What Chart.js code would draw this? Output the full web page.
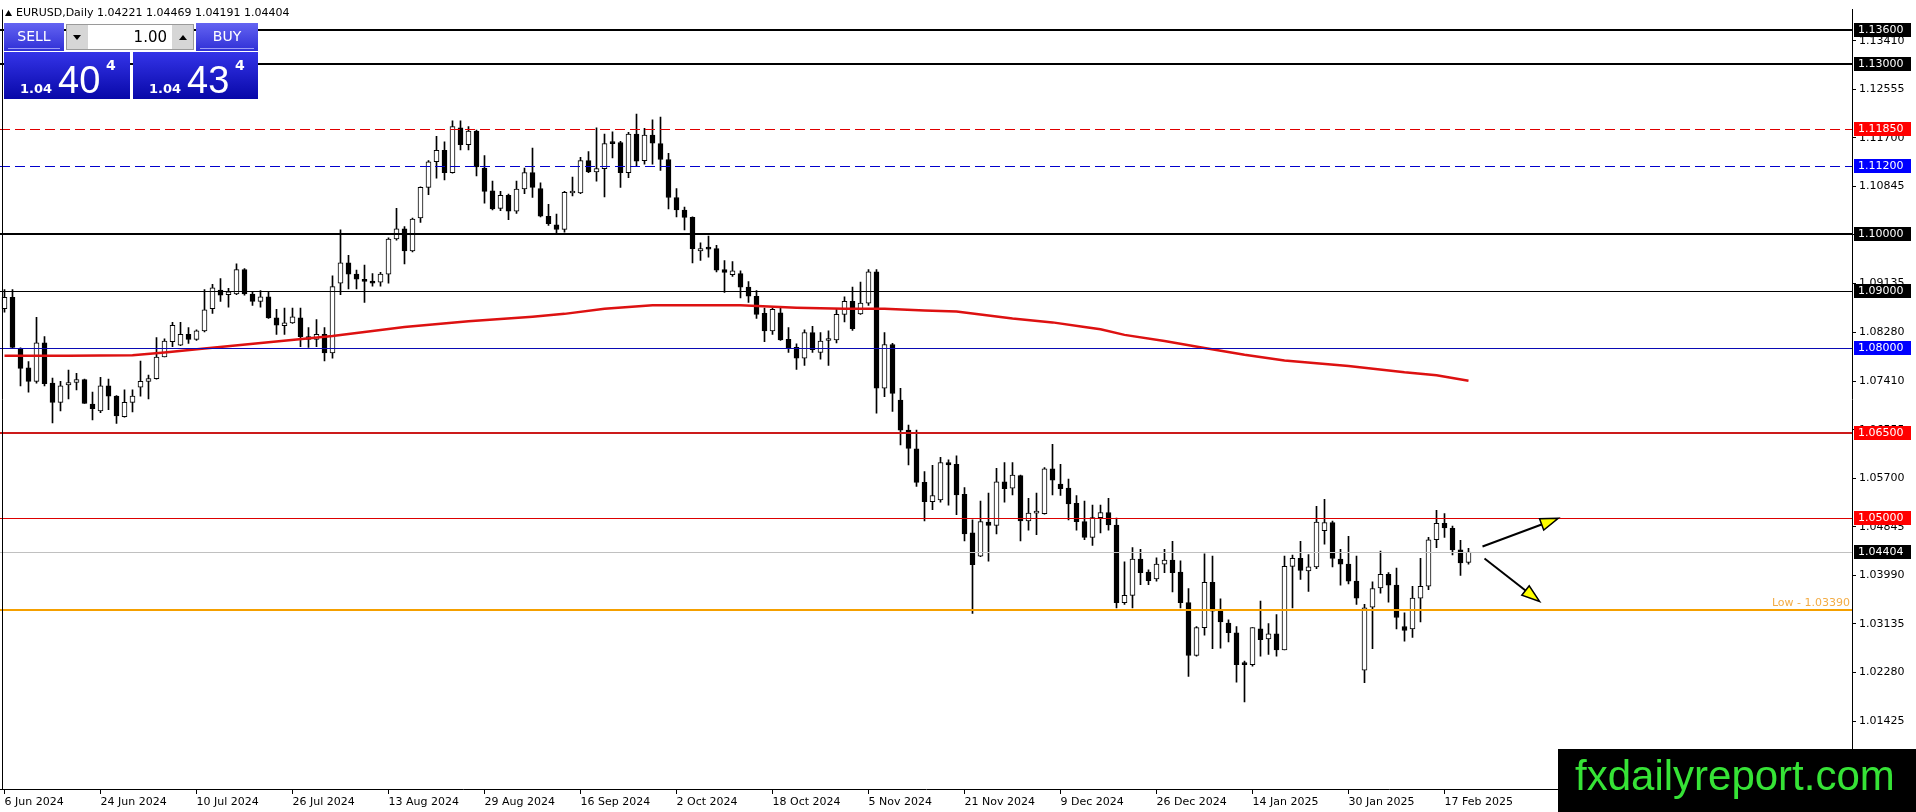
<!DOCTYPE html>
<html><head><meta charset="utf-8">
<script src="https://cdn.jsdelivr.net/npm/chart.js@4.4.1/dist/chart.umd.min.js"></script>
<style>html,body{margin:0;padding:0;background:#fff;overflow:hidden}canvas{display:block}</style>
</head><body>
<canvas id="c" width="1916" height="812"></canvas>
<script>
// ---- Daily EURUSD candles (index 0 = 6 Jun 2024, index 183 = 20 Feb 2025) ----
const openP = [
1.0869,1.0889,1.0799,1.0765,1.0741,1.0809,1.0738,1.0704,1.0735,1.0739,
1.0744,1.0701,1.0689,1.0733,1.0715,1.0679,1.0704,1.0731,1.0741,1.0746,
1.0784,1.0811,1.0805,1.0824,1.0815,1.0830,1.0869,1.0902,1.0894,1.0895,
1.0938,1.0895,1.0882,1.0890,1.0853,1.0839,1.0844,1.0853,1.0820,1.0815,
1.0824,1.0791,1.0914,1.0950,1.0930,1.0921,1.0918,1.0916,1.0930,1.0992,
1.1010,1.0971,1.1029,1.1083,1.1128,1.1148,1.1109,1.1188,1.1158,1.1182,
1.1117,1.1077,1.1046,1.1069,1.1041,1.1080,1.1109,1.1081,1.1032,1.1017,
1.1009,1.1073,1.1073,1.1130,1.1110,1.1116,1.1162,1.1162,1.1109,1.1177,
1.1130,1.1175,1.1160,1.1132,1.1065,1.1043,1.1030,1.0971,1.0976,1.0975,
1.0938,1.0929,1.0931,1.0907,1.0891,1.0861,1.0830,1.0862,1.0815,1.0801,
1.0782,1.0827,1.0792,1.0813,1.0814,1.0859,1.0882,1.0860,1.0879,1.0934,
1.0729,1.0806,1.0708,1.0655,1.0622,1.0563,1.0529,1.0532,1.0598,1.0595,
1.0542,1.0474,1.0433,1.0493,1.0487,1.0564,1.0553,1.0575,1.0495,1.0509,
1.0508,1.0587,1.0560,1.0553,1.0526,1.0494,1.0466,1.0501,1.0510,1.0488,
1.0351,1.0364,1.0428,1.0405,1.0393,1.0419,1.0426,1.0405,1.0351,1.0258,
1.0307,1.0387,1.0336,1.0315,1.0298,1.0244,1.0242,1.0305,1.0287,1.0296,
1.0268,1.0415,1.0429,1.0407,1.0414,1.0478,1.0492,1.0428,1.0419,1.0389,
1.0232,1.0343,1.0377,1.0401,1.0382,1.0309,1.0305,1.0359,1.0380,1.0462,
1.0491,1.0482,1.0444,1.04221];
const highP = [
1.0903,1.0903,1.0800,1.0776,1.0854,1.0820,1.0747,1.0741,1.0761,1.0755,
1.0745,1.0722,1.0748,1.0745,1.0716,1.0726,1.0726,1.0777,1.0752,1.0818,
1.0816,1.0845,1.0845,1.0836,1.0832,1.0903,1.0912,1.0922,1.0905,1.0948,
1.0940,1.0899,1.0901,1.0898,1.0868,1.0870,1.0870,1.0870,1.0836,1.0850,
1.0836,1.0927,1.1008,1.0963,1.0937,1.0946,1.0931,1.0933,1.0994,1.1046,
1.1014,1.1029,1.1084,1.1130,1.1173,1.1163,1.1200,1.1200,1.1190,1.1184,
1.1139,1.1094,1.1076,1.1071,1.1094,1.1117,1.1152,1.1091,1.1053,1.1036,
1.1076,1.1101,1.1136,1.1146,1.1188,1.1177,1.1181,1.1164,1.1180,1.1212,
1.1187,1.1202,1.1207,1.1143,1.1081,1.1048,1.1031,1.0985,1.0997,1.0981,
1.0954,1.0952,1.0936,1.0917,1.0901,1.0870,1.0870,1.0870,1.0836,1.0807,
1.0832,1.0838,1.0827,1.0830,1.0868,1.0890,1.0907,1.0916,1.0938,1.0938,
1.0827,1.0808,1.0729,1.0664,1.0655,1.0582,1.0593,1.0607,1.0603,1.0610,
1.0554,1.0497,1.0530,1.0544,1.0588,1.0598,1.0598,1.0576,1.0535,1.0544,
1.0589,1.0630,1.0595,1.0569,1.0540,1.0530,1.0523,1.0523,1.0535,1.0500,
1.0423,1.0448,1.0445,1.0409,1.0430,1.0445,1.0459,1.0425,1.0376,1.0309,
1.0437,1.0433,1.0358,1.0321,1.0309,1.0248,1.0307,1.0354,1.0314,1.0330,
1.0433,1.0435,1.0459,1.0436,1.0521,1.0533,1.0495,1.0445,1.0468,1.0433,
1.0348,1.0388,1.0442,1.0404,1.0412,1.0333,1.0380,1.0429,1.0466,1.0514,
1.0508,1.0486,1.0461,1.04469];
const lowP = [
1.0863,1.0800,1.0733,1.0722,1.0738,1.0733,1.0668,1.0689,1.0710,1.0726,
1.0702,1.0673,1.0686,1.0691,1.0667,1.0678,1.0687,1.0715,1.0710,1.0745,
1.0784,1.0802,1.0804,1.0808,1.0813,1.0828,1.0861,1.0882,1.0872,1.0894,
1.0893,1.0875,1.0872,1.0852,1.0824,1.0824,1.0843,1.0802,1.0801,1.0802,
1.0777,1.0782,1.0894,1.0904,1.0904,1.0880,1.0909,1.0909,1.0914,1.0990,
1.0948,1.0969,1.1021,1.1070,1.1099,1.1096,1.1108,1.1149,1.1149,1.1103,
1.1055,1.1043,1.1042,1.1026,1.1037,1.1072,1.1065,1.1031,1.1016,1.1002,
1.1004,1.1068,1.1072,1.1109,1.1094,1.1066,1.1135,1.1083,1.1100,1.1120,
1.1124,1.1124,1.1113,1.1045,1.1031,1.1008,1.0950,1.0954,1.0960,1.0934,
1.0898,1.0926,1.0888,1.0880,1.0852,1.0811,1.0824,1.0813,1.0792,1.0762,
1.0769,1.0792,1.0780,1.0769,1.0809,1.0846,1.0831,1.0859,1.0875,1.0685,
1.0714,1.0688,1.0629,1.0594,1.0556,1.0495,1.0515,1.0528,1.0523,1.0506,
1.0460,1.0332,1.0432,1.0424,1.0472,1.0528,1.0541,1.0460,1.0479,1.0471,
1.0507,1.0541,1.0540,1.0497,1.0479,1.0462,1.0452,1.0474,1.0479,1.0342,
1.0348,1.0342,1.0383,1.0383,1.0389,1.0404,1.0370,1.0342,1.0221,1.0257,
1.0294,1.0270,1.0271,1.0282,1.0211,1.0176,1.0239,1.0257,1.0260,1.0257,
1.0268,1.0342,1.0392,1.0371,1.0411,1.0454,1.0414,1.0382,1.0384,1.0348,
1.0210,1.0270,1.0368,1.0352,1.0305,1.0283,1.0290,1.0317,1.0374,1.0448,
1.0466,1.0435,1.0399,1.04191];
const closeP = [
1.0889,1.0801,1.0764,1.0741,1.0809,1.0737,1.0704,1.0733,1.0739,1.0744,
1.0702,1.0693,1.0733,1.0715,1.0680,1.0704,1.0715,1.0741,1.0746,1.0784,
1.0812,1.0840,1.0824,1.0815,1.0830,1.0867,1.0906,1.0893,1.0899,1.0938,
1.0895,1.0882,1.0890,1.0853,1.0840,1.0844,1.0855,1.0820,1.0815,1.0824,
1.0791,1.0908,1.0950,1.0930,1.0921,1.0917,1.0914,1.0930,1.0992,1.1010,
1.0971,1.1027,1.1083,1.1128,1.1148,1.1109,1.1190,1.1158,1.1182,1.1119,
1.1076,1.1045,1.1069,1.1041,1.1080,1.1109,1.1083,1.1032,1.1019,1.1009,
1.1074,1.1074,1.1130,1.1110,1.1116,1.1160,1.1160,1.1109,1.1177,1.1129,
1.1175,1.1161,1.1132,1.1065,1.1043,1.1030,1.0975,1.0975,1.0974,1.0937,
1.0933,1.0936,1.0907,1.0891,1.0859,1.0830,1.0868,1.0814,1.0799,1.0782,
1.0827,1.0797,1.0812,1.0814,1.0859,1.0882,1.0834,1.0879,1.0934,1.0729,
1.0806,1.0720,1.0655,1.0623,1.0563,1.0529,1.0540,1.0598,1.0594,1.0541,
1.0472,1.0418,1.0494,1.0487,1.0564,1.0552,1.0576,1.0495,1.0509,1.0510,
1.0587,1.0567,1.0552,1.0525,1.0494,1.0466,1.0501,1.0510,1.0488,1.0351,
1.0364,1.0428,1.0404,1.0390,1.0419,1.0426,1.0404,1.0351,1.0258,1.0307,
1.0387,1.0336,1.0317,1.0298,1.0242,1.0242,1.0307,1.0286,1.0296,1.0268,
1.0415,1.0429,1.0408,1.0414,1.0493,1.0492,1.0429,1.0419,1.0389,1.0359,
1.0342,1.0376,1.0401,1.0382,1.0325,1.0302,1.0359,1.0380,1.0462,1.0491,
1.0483,1.0444,1.0421,1.04404];

// ---- Moving average (red curve), read at sample bars ----
const maIndex = [0,8,16,20,25,33,41,50,58,66,70,75,81,92,99,105,110,115,119,122,126,131,135,137,140,145,150,155,160,168,175,179,183];
const maValue = [1.0786,1.0786,1.0787,1.0792,1.0799,1.0810,1.0821,1.0837,1.0847,1.0855,1.0860,1.0869,1.0875,1.0875,1.0871,1.0869,1.0869,1.0866,1.0864,1.0859,1.0852,1.0845,1.0837,1.0833,1.0823,1.0812,1.0800,1.0788,1.0778,1.0768,1.0757,1.0752,1.0742];

// ---- Axis labels ----
const xTickIndex = [0,12,24,36,48,60,72,84,96,108,120,132,144,156,168,180];
const xTickLabels = ['6 Jun 2024','24 Jun 2024','10 Jul 2024','26 Jul 2024','13 Aug 2024','29 Aug 2024','16 Sep 2024','2 Oct 2024','18 Oct 2024','5 Nov 2024','21 Nov 2024','9 Dec 2024','26 Dec 2024','14 Jan 2025','30 Jan 2025','17 Feb 2025'];
const yTickValues = [1.13410,1.12555,1.11700,1.10845,1.09990,1.09135,1.08280,1.07410,1.06555,1.05700,1.04845,1.03990,1.03135,1.02280,1.01425];

// ---- Horizontal levels ----
const levelPrices = [1.13600,1.13000,1.11850,1.11200,1.10000,1.09000,1.08000,1.06500,1.05000,1.04404,1.03390];
const levelTags   = ['1.13600','1.13000','1.11850','1.11200','1.10000','1.09000','1.08000','1.06500','1.05000','1.04404',''];
const lowLabel = 'Low - 1.03390';

// ---- Arrows (bar index, price) ----
const arrowFrom = [[184.75,1.0450],[185.0,1.0429]];
const arrowTo   = [[194.25,1.0500],[191.9,1.0353]];

// ---- Header texts ----
const titleText = 'EURUSD,Daily 1.04221 1.04469 1.04191 1.04404';
const lotText = '1.00';
const sellBig = ['1.04','40','4'];
const buyBig  = ['1.04','43','4'];
const logoText = 'fxdailyreport.com';

// ---- styles (kept apart from data) ----
const levelStyle = [
  {c:'#000000',w:2,box:'#000000'},
  {c:'#000000',w:2,box:'#000000'},
  {c:'#e00000',w:1,dash:[10,5],box:'#ff0000'},
  {c:'#0000cc',w:1,dash:[10,5],box:'#0000ff'},
  {c:'#000000',w:2,box:'#000000'},
  {c:'#000000',w:1,box:'#000000'},
  {c:'#0a0ab4',w:1,box:'#0000ff'},
  {c:'#cc1a1a',w:2,box:'#ff0000'},
  {c:'#dd0000',w:1,box:'#ff0000'},
  {c:'#c0c0c0',w:1,box:'#000000'},
  {c:'#f5a000',w:2,box:null}
];
const FONT = 'DejaVu Sans';
const PX_PER_BAR = 8, PLOT_W = 1852;
const xMin = -0.5625, xMax = xMin + PLOT_W / PX_PER_BAR;
const yMin = 1.00227, yMax = 1.13962;

const wickData = highP.map((h,i)=>({x:i, y:[lowP[i], h]}));
const bodyData = openP.map((o,i)=>({x:i, y:[Math.min(o,closeP[i]), Math.max(o,closeP[i])]}));
const bodyFill = openP.map((o,i)=> closeP[i] >= o ? '#ffffff' : '#000000');
const maData = maIndex.map((x,k)=>({x:x, y:maValue[k]}));

function arrow(ctx, x1,y1,x2,y2){
  const a = Math.atan2(y2-y1, x2-x1), L = 18, W = 6;
  const bx = x2 - L*Math.cos(a), by = y2 - L*Math.sin(a);
  ctx.strokeStyle = '#000'; ctx.lineWidth = 2;
  ctx.beginPath(); ctx.moveTo(x1,y1); ctx.lineTo(bx,by); ctx.stroke();
  ctx.beginPath();
  ctx.moveTo(x2,y2);
  ctx.lineTo(bx + W*Math.sin(a), by - W*Math.cos(a));
  ctx.lineTo(bx - W*Math.sin(a), by + W*Math.cos(a));
  ctx.closePath();
  ctx.fillStyle = '#ffff00'; ctx.fill();
  ctx.lineWidth = 1.5; ctx.stroke();
}

const overlay = {
  id:'overlay',
  afterDatasetsDraw(chart){
    const ctx = chart.ctx, a = chart.chartArea, ys = chart.scales.y, xs = chart.scales.x;
    ctx.save();
    ctx.beginPath(); ctx.rect(a.left, a.top, a.right-a.left, a.bottom-a.top); ctx.clip();
    levelPrices.forEach((p,k)=>{
      const st = levelStyle[k];
      let y = Math.round(ys.getPixelForValue(p));
      if (st.w % 2 === 1) y += 0.5;
      ctx.strokeStyle = st.c; ctx.lineWidth = st.w;
      ctx.setLineDash(st.dash || []);
      ctx.beginPath(); ctx.moveTo(a.left, y); ctx.lineTo(a.right, y); ctx.stroke();
    });
    ctx.setLineDash([]);
    const yl = ys.getPixelForValue(levelPrices[10]);
    ctx.font = '11px "' + FONT + '"'; ctx.fillStyle = '#f3ac45';
    ctx.textAlign = 'right'; ctx.textBaseline = 'alphabetic';
    ctx.fillText(lowLabel, a.right - 2, yl - 4);
    for (let k=0;k<arrowFrom.length;k++){
      arrow(ctx, xs.getPixelForValue(arrowFrom[k][0]), ys.getPixelForValue(arrowFrom[k][1]),
                 xs.getPixelForValue(arrowTo[k][0]), ys.getPixelForValue(arrowTo[k][1]));
    }
    ctx.restore();
  },
  afterDraw(chart){
    const ctx = chart.ctx, a = chart.chartArea, ys = chart.scales.y;
    ctx.save();
    ctx.strokeStyle = '#000'; ctx.lineWidth = 1;
    ctx.beginPath(); ctx.moveTo(2.5, a.top); ctx.lineTo(2.5, a.bottom); ctx.stroke();
    ctx.font = '11px "' + FONT + '"'; ctx.textAlign = 'left'; ctx.textBaseline = 'middle';
    levelPrices.forEach((p,k)=>{
      const st = levelStyle[k];
      if (!st.box) return;
      const y = Math.round(ys.getPixelForValue(p));
      ctx.fillStyle = st.box; ctx.fillRect(a.right + 2, y - 7, 57, 14);
      ctx.fillStyle = '#ffffff'; ctx.fillText(levelTags[k], a.right + 6, y + 0.5);
    });
    ctx.fillStyle = '#000';
    ctx.beginPath(); ctx.moveTo(5,16); ctx.lineTo(12,16); ctx.lineTo(8.5,10); ctx.closePath(); ctx.fill();
    ctx.font = '11px "' + FONT + '"'; ctx.textBaseline = 'middle'; ctx.textAlign = 'left';
    ctx.fillText(titleText, 16, 13);
    const blueBtn = (x,y,w,h)=>{
      const g = ctx.createLinearGradient(0,y,0,y+h);
      g.addColorStop(0,'#6464f2'); g.addColorStop(1,'#2f2fd6');
      ctx.fillStyle = g; ctx.fillRect(x,y,w,h);
      ctx.fillStyle = '#9c9cf6'; ctx.fillRect(x+4, y+h-3, w-8, 1);
    };
    blueBtn(4,23,60,28);
    blueBtn(196,23,62,28);
    ctx.fillStyle = '#d6d6d6'; ctx.fillRect(66,24,128,26);
    ctx.strokeStyle = '#9a9a9a'; ctx.lineWidth = 1; ctx.strokeRect(66.5,24.5,127,25);
    ctx.fillStyle = '#ffffff'; ctx.fillRect(88,25,84,24);
    ctx.fillStyle = '#000';
    ctx.beginPath(); ctx.moveTo(73,35); ctx.lineTo(81,35); ctx.lineTo(77,40); ctx.closePath(); ctx.fill();
    ctx.beginPath(); ctx.moveTo(179,40); ctx.lineTo(187,40); ctx.lineTo(183,35); ctx.closePath(); ctx.fill();
    ctx.font = '15px "' + FONT + '"'; ctx.textAlign = 'right'; ctx.fillStyle = '#000';
    ctx.fillText(lotText, 167, 38);
    ctx.font = '14px "' + FONT + '"'; ctx.textAlign = 'center'; ctx.fillStyle = '#fff';
    ctx.fillText('SELL', 34, 37);
    ctx.fillText('BUY', 227, 37);
    const bigBox = (x,w,parts)=>{
      const g = ctx.createLinearGradient(0,52,0,99);
      g.addColorStop(0,'#3434e8'); g.addColorStop(1,'#0808a8');
      ctx.fillStyle = g; ctx.fillRect(x,52,w,47);
      ctx.fillStyle = '#fff'; ctx.textAlign = 'left'; ctx.textBaseline = 'alphabetic';
      ctx.font = 'bold 13px "' + FONT + '"'; ctx.fillText(parts[0], x+16, 93);
      ctx.font = '38px "Liberation Sans"'; ctx.fillText(parts[1], x+54, 93);
      ctx.font = 'bold 14px "' + FONT + '"'; ctx.fillText(parts[2], x+102, 70);
    };
    bigBox(4,126,sellBig);
    bigBox(133,125,buyBig);
    ctx.fillStyle = '#000'; ctx.fillRect(1558,749,358,63);
    ctx.fillStyle = '#36e336'; ctx.font = '42px "Liberation Sans"';
    ctx.textAlign = 'left'; ctx.textBaseline = 'alphabetic';
    ctx.fillText(logoText, 1575, 790);
    ctx.restore();
  }
};

new Chart(document.getElementById('c'), {
  type:'bar',
  data:{datasets:[
    {type:'line', data:maData, borderColor:'#dd1111', borderWidth:2.5, pointRadius:0, tension:0, order:0},
    {type:'bar', data:bodyData, backgroundColor:bodyFill, borderColor:'#000', borderWidth:1, borderSkipped:false, barThickness:5, grouped:false, minBarLength:2, order:1},
    {type:'bar', data:wickData, backgroundColor:'#000', borderWidth:0, barThickness:1, grouped:false, order:2}
  ]},
  options:{
    responsive:false, animation:false, devicePixelRatio:1,
    layout:{padding:{top:2,left:0,right:0,bottom:0}},
    plugins:{legend:{display:false}, tooltip:{enabled:false}},
    scales:{
      x:{type:'linear', min:xMin, max:xMax, offset:false,
        afterBuildTicks:s=>{ s.ticks = xTickIndex.map(v=>({value:v})); },
        afterFit:s=>{ s.height = 23; },
        ticks:{autoSkip:false, maxRotation:0, minRotation:0, align:'start', padding:2, color:'#000',
          font:{family:FONT, size:11},
          callback:(v)=>{ const k = xTickIndex.indexOf(v); return k>=0 ? xTickLabels[k] : ''; }},
        grid:{display:true, offset:false, drawOnChartArea:false, drawTicks:true, tickLength:5, color:'#000'},
        border:{display:true, color:'#000', width:1}
      },
      y:{type:'linear', position:'right', min:yMin, max:yMax,
        afterBuildTicks:s=>{ s.ticks = yTickValues.map(v=>({value:v})); },
        afterFit:s=>{ s.width = 64; },
        ticks:{padding:3, color:'#000', font:{family:FONT, size:11}, callback:(v)=>Number(v).toFixed(5)},
        grid:{display:true, drawOnChartArea:false, drawTicks:true, tickLength:4, color:'#000'},
        border:{display:true, color:'#000', width:1}
      }
    }
  },
  plugins:[overlay]
});
</script>
</body></html>
